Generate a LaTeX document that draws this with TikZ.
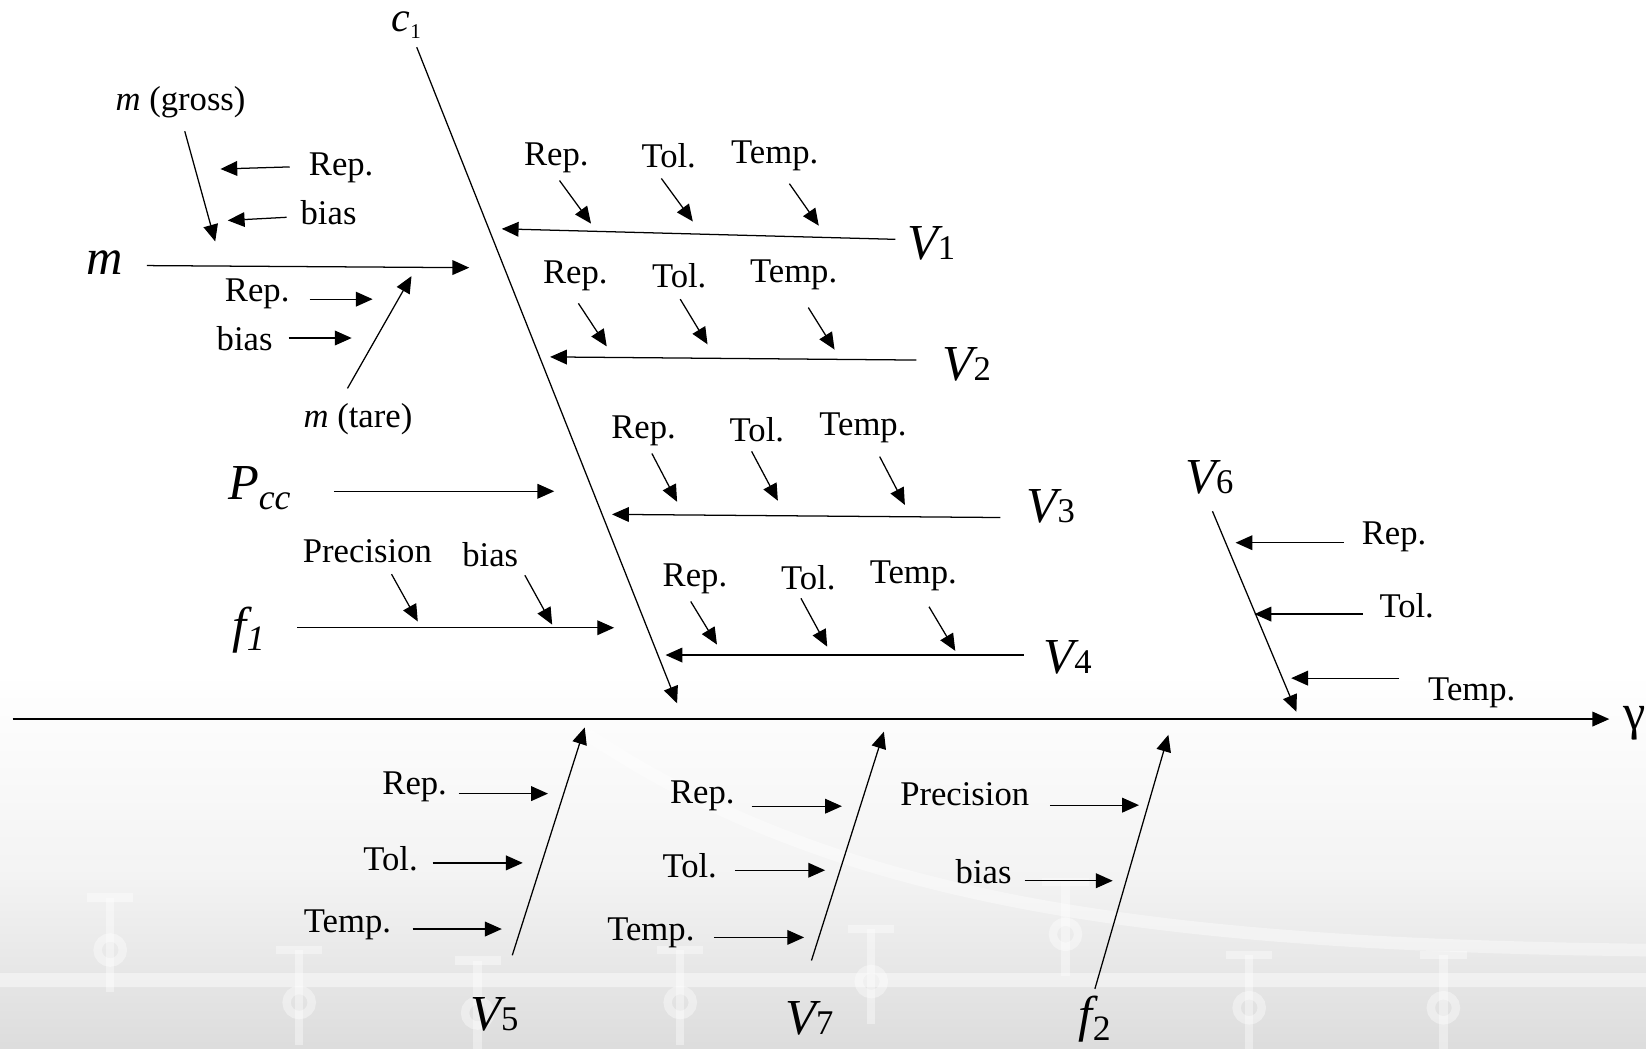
\documentclass[tikz,border=0pt]{standalone}
\usepackage{fontspec}
\setmainfont{Liberation Serif}
\usetikzlibrary{arrows.meta}
\newcommand\link[3]{\coordinate (#1s) at (#2); \coordinate (#1e) at (#3); \draw[arr] (#1s) -- (#1e);}
\newcommand\vsub[2]{{\itshape #1}{\fontsize{16.5}{18}\selectfont #2}}
\begin{document}
\begin{tikzpicture}[x=0.5pt,y=-0.5pt,
  arr/.style={-{Triangle[length=8pt,width=7pt]}, line width=0.6pt},
  lbl/.style={inner sep=0pt, font=\fontsize{16.5}{18}\selectfont},
  var/.style={inner sep=0pt, font=\fontsize{24}{26}\selectfont},
  lolly/.pic={
    \draw[white, line width=4pt, opacity=0.4] (0,-45) -- (0,45);
    \draw[white, line width=4pt, opacity=0.4] (-22,-45) -- (22,-45);
    \draw[white, line width=4pt, opacity=0.4] (0,5) circle (12);
  }]
\useasboundingbox (0,0) rectangle (1568,999);

% background: white page fading to light grey at the foot
\fill[white] (0,0) rectangle (1568,999);
\shade[top color=white, bottom color=gray!9] (0,640) rectangle (1568,830);
\shade[top color=gray!9, bottom color=gray!27] (0,830) rectangle (1568,999);
\fill[white, opacity=0.45] (0,927) rectangle (1568,940);
\draw[white, line width=6pt, opacity=0.4] (560,700) .. controls (800,860) and (1100,900) .. (1568,905);
\foreach \px/\py in {105/900, 285/950, 455/960, 648/950, 830/930, 1015/885, 1190/955, 1375/955}
  \pic at (\px,\py) {lolly};

% main axis and spine
\coordinate (ax0) at (12,685);
\coordinate (ax1) at (1533,685);
\draw[arr] (ax0) -- (ax1);
\node[var, anchor=west] (gam) at (1546,689) {γ};

\node[inner sep=0pt, font=\fontsize{20}{22}\selectfont] (c1) at (387,24)
  {{\itshape c}\raisebox{-3pt}{\fontsize{10}{11}\selectfont 1}};
\coordinate (spS) at (397,45);
\coordinate (spE) at (645,670);
\draw[arr] (spS) -- (spE);

% mass branch
\node[lbl] (mg) at (172,97) {{\itshape m} (gross)};
\link{mg}{176,125}{205,230}
\node[lbl] (mrep1) at (325,160) {Rep.};
\link{mrepA}{276,159}{210,161}
\node[lbl] (mbias1) at (313,203) {bias};
\link{mbiasA}{273,207}{217,210}
\node[var] (m) at (100,250) {\itshape m};
\link{mm}{140,253}{447,255}
\node[lbl] (mrep2) at (245,280) {Rep.};
\link{mrepB}{295,285}{355,285}
\node[lbl] (mbias2) at (233,323) {bias};
\link{mbiasB}{275,322}{335,322}
\node[lbl] (mt) at (341,399) {{\itshape m} (tare)};
\link{mt}{331,370}{392,263}

% P_cc and f_1
\node[var] (pcc) at (247,465) {{\itshape P}\raisebox{-4.5pt}{\fontsize{17}{18}\selectfont\itshape cc}};
\link{pcc}{318,468}{528,468}
\node[lbl] (fprec) at (350,525) {Precision};
\node[lbl] (fbias) at (467,528) {bias};
\link{fprec}{373,547}{398,592}
\link{fbias}{500,548}{526,595}
\node[var] (f1) at (237,600) {{\itshape f}\raisebox{-4pt}{\fontsize{17}{18}\selectfont\itshape 1}};
\link{f1}{283,598}{585,598}

% volumes V1 - V4
\node[var] (v1) at (887,232) {\vsub{V}{1}};
\link{v1}{853,228}{478,218}
\node[lbl] (v1r) at (530,150) {Rep.};
\node[lbl] (v1t) at (637,148) {Tol.};
\node[lbl] (v1p) at (738,148) {Temp.};
\link{v1r}{533,172}{563,213}
\link{v1t}{630,170}{660,211}
\link{v1p}{752,175}{780,215}

\node[var] (v2) at (921,347) {\vsub{V}{2}};
\link{v2}{873,343}{524,340}
\node[lbl] (v2r) at (548,263) {Rep.};
\node[lbl] (v2t) at (647,263) {Tol.};
\node[lbl] (v2p) at (756,262) {Temp.};
\link{v2r}{551,289}{578,330}
\link{v2t}{648,285}{674,328}
\link{v2p}{770,293}{795,333}

\node[var] (v3) at (1001,482) {\vsub{V}{3}};
\link{v3}{953,493}{583,490}
\node[lbl] (v3r) at (613,410) {Rep.};
\node[lbl] (v3t) at (721,409) {Tol.};
\node[lbl] (v3p) at (822,408) {Temp.};
\link{v3r}{621,432}{645,478}
\link{v3t}{716,430}{741,477}
\link{v3p}{838,435}{862,481}

\node[var] (v4) at (1017,626) {\vsub{V}{4}};
\link{v4}{975,624}{634,624}
\node[lbl] (v4r) at (662,551) {Rep.};
\node[lbl] (v4t) at (770,550) {Tol.};
\node[lbl] (v4p) at (870,549) {Temp.};
\link{v4r}{658,573}{683,614}
\link{v4t}{763,570}{788,616}
\link{v4p}{885,578}{910,620}

% V6 branch above the axis
\node[var] (v6) at (1152,455) {\vsub{V}{6}};
\link{v6}{1155,487}{1235,678}
\node[lbl] (v6r) at (1328,511) {Rep.};
\node[lbl] (v6t) at (1340,577) {Tol.};
\node[lbl] (v6p) at (1402,660) {Temp.};
\link{v6r}{1280,517}{1177,517}
\link{v6t}{1298,585}{1195,585}
\link{v6p}{1333,646}{1230,646}

% branches below the axis
\node[var] (v5) at (471,966) {\vsub{V}{5}};
\link{v5}{488,910}{557,693}
\node[lbl] (v5r) at (395,750) {Rep.};
\node[lbl] (v5t) at (372,818) {Tol.};
\node[lbl] (v5p) at (331,881) {Temp.};
\link{v5r}{437,756}{522,756}
\link{v5t}{412,822}{498,822}
\link{v5p}{393,885}{478,885}

\node[var] (v7) at (771,970) {\vsub{V}{7}};
\link{v7}{773,915}{842,697}
\node[lbl] (v7r) at (669,758) {Rep.};
\node[lbl] (v7t) at (657,825) {Tol.};
\node[lbl] (v7p) at (620,889) {Temp.};
\link{v7r}{716,768}{802,768}
\link{v7t}{700,829}{786,829}
\link{v7p}{680,893}{766,893}

\node[var] (f2) at (1043,971) {{\itshape f}\raisebox{-4pt}{\fontsize{17}{18}\selectfont 2}};
\link{f2}{1043,942}{1113,700}
\node[lbl] (f2p) at (919,757) {Precision};
\node[lbl] (f2b) at (937,830) {bias};
\link{f2p}{1000,767}{1085,767}
\link{f2b}{976,839}{1060,839}
\end{tikzpicture}
\end{document}
